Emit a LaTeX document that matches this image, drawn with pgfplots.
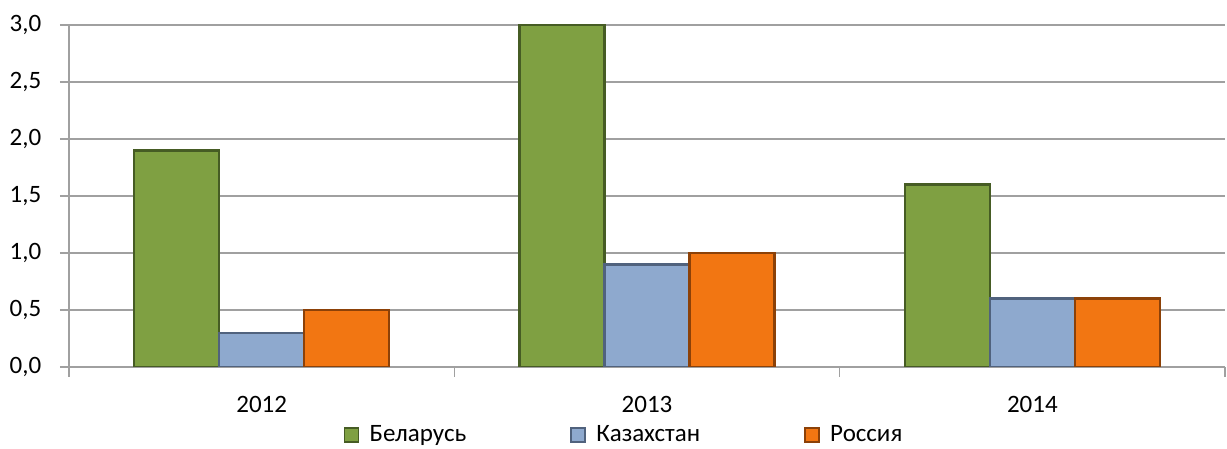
\documentclass[border=0pt]{standalone}
\usepackage{pgfplots}
\pgfplotsset{compat=1.18}
\usepackage{fontspec}
\setmainfont{Carlito}
\definecolor{cgreen}{RGB}{127,160,66}
\definecolor{cgreenD}{RGB}{70,92,36}
\definecolor{cblue}{RGB}{142,169,206}
\definecolor{cblueD}{RGB}{80,98,125}
\definecolor{corange}{RGB}{242,118,18}
\definecolor{corangeD}{RGB}{140,65,8}
\definecolor{cgrid}{RGB}{160,160,160}
\begin{document}
\fontsize{12.5pt}{15pt}\selectfont
\begin{tikzpicture}
\begin{axis}[
  name=ax,
  scale only axis,
  width=578pt, height=171pt,
  ybar=0pt, bar width=42.5pt,
  xmin=-0.5, xmax=2.5,
  ymin=0, ymax=3,
  xtick={0,1,2},
  xticklabels={2012,2013,2014},
  minor xtick={-0.5,0.5,1.5,2.5},
  ytick={0,0.5,1,1.5,2,2.5,3},
  yticklabel style={/pgf/number format/use comma, /pgf/number format/fixed, /pgf/number format/fixed zerofill, /pgf/number format/precision=1, xshift=-5pt},
  /pgf/number format/assume math mode=true,
  axis x line=bottom, axis y line=left,
  axis line style={draw=cgrid, line width=0.8pt, -},
  ymajorgrids, grid style={draw=cgrid, line width=0.8pt},
  tick align=outside,
  major tick length=4.5pt,
  minor tick length=5pt,
  x tick style={draw=none},
  minor x tick style={draw=cgrid, line width=0.8pt},
  y tick style={draw=cgrid, line width=0.8pt},
  xticklabel style={yshift=-6pt},
  tick label style={font=\fontsize{12.5pt}{15pt}\selectfont, text=black},
  legend columns=3,
  legend style={at={(0.5,0)}, anchor=center, yshift=-34pt, xshift=-11pt, draw=none,
    font=\fontsize{12.5pt}{15pt}\selectfont,
    /tikz/every even column/.append style={column sep=50pt}},
  legend image code/.code={\draw[#1, line width=0.8pt] (0pt,-3.5pt) rectangle (7pt,3.5pt); \path (10pt,0pt);},
]
\addplot[fill=cgreen, draw=cgreenD, line width=1.2pt] coordinates {(0,1.9) (1,3.0) (2,1.6)};
\addplot[fill=cblue, draw=cblueD, line width=1.2pt] coordinates {(0,0.3) (1,0.9) (2,0.6)};
\addplot[fill=corange, draw=corangeD, line width=1.2pt] coordinates {(0,0.5) (1,1.0) (2,0.6)};
\legend{Беларусь, Казахстан, Россия}
\end{axis}
\pgfresetboundingbox
\path[use as bounding box] ([xshift=-34.5pt, yshift=-41pt]ax.south west) rectangle ([xshift=1pt, yshift=12.5pt]ax.north east);
\end{tikzpicture}
\end{document}
